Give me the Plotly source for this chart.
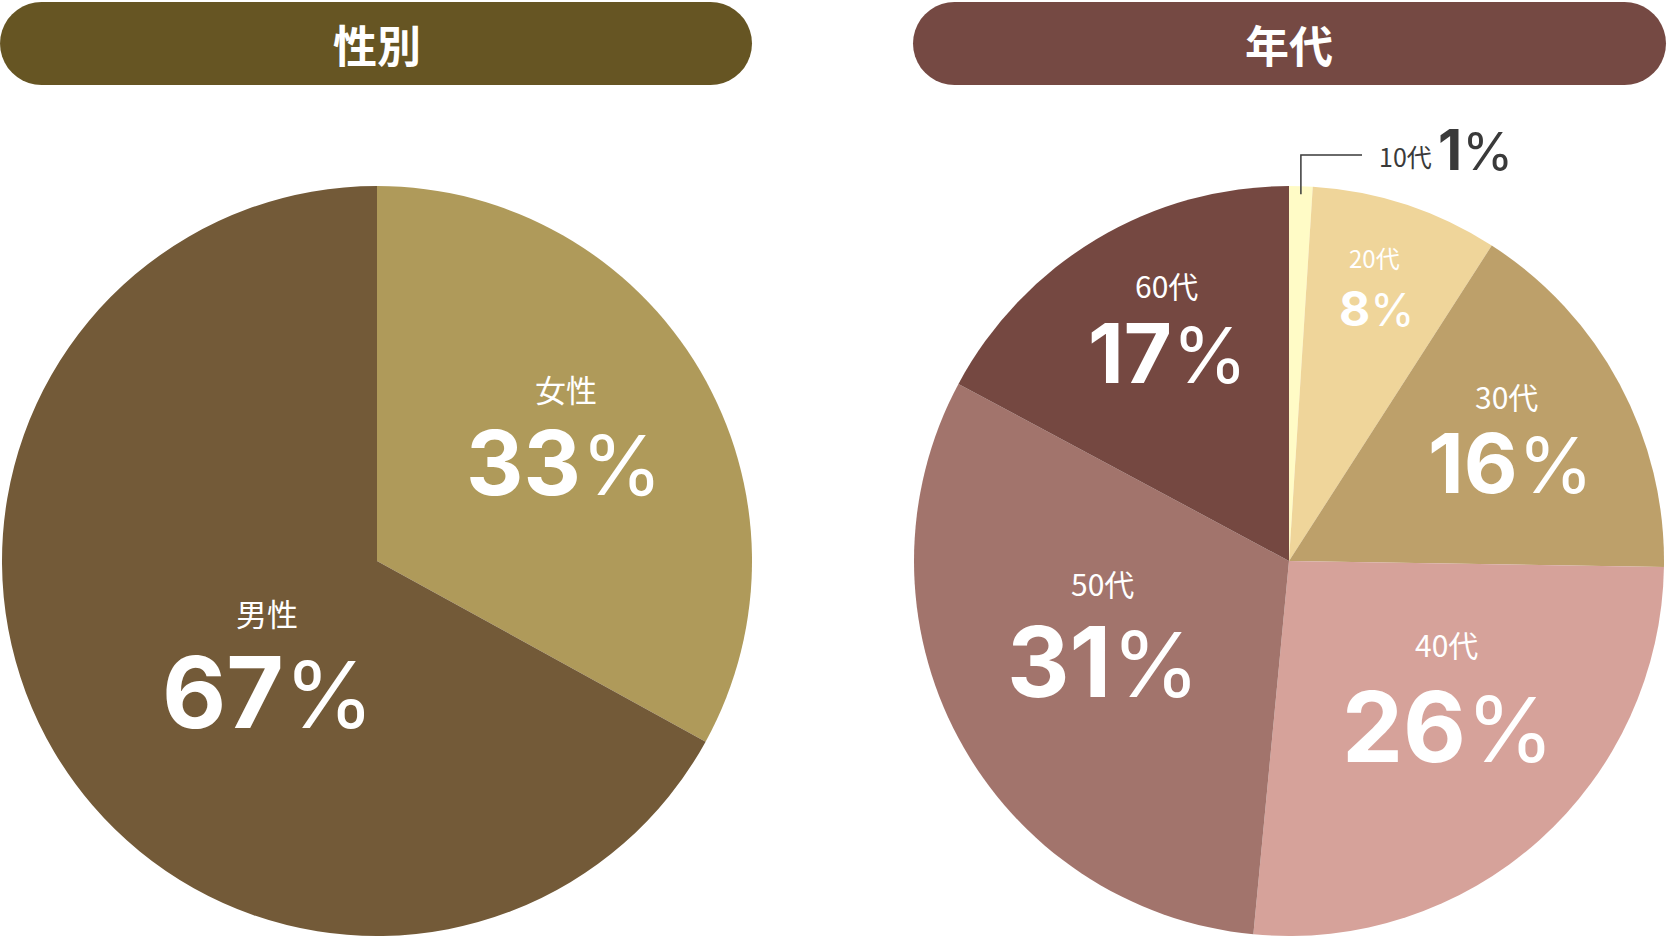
import math
import plotly.graph_objects as go

# data
gender_labels = ["女性", "男性"]
gender_values = [33, 67]

age_labels = ["10代", "20代", "30代", "40代", "50代", "60代"]
age_values = [1, 8, 16, 26, 31, 17]

# colours
gender_colors = ["#AF9A5A", "#735A38"]
age_colors = ["#FFFBC6", "#EFD59A", "#BDA06A", "#D6A29A", "#A2746C", "#754841"]
gender_head = "#665523"
age_head = "#754943"

W, H = 1668, 938
R = 375
left_c = (377, 561)
right_c = (1289, 561)

# label placement in pixels (label, value), one per slice
gender_label_xy = [(566, 388), (267, 612)]
gender_value_xy = [(564, 462), (268, 692)]
gender_value_size = [89, 99]

age_label_xy = [None, (1374, 257), (1506, 396), (1446, 644), (1102, 583), (1166, 285)]
age_value_xy = [None, (1376, 308), (1510, 463), (1448, 726), (1103, 661), (1168, 353)]
age_label_size = [25, 24, 30, 30, 30, 30]
age_value_size = [56, 48, 83, 97, 97, 83]

num_font = "Inter, Liberation Sans, Arial, sans-serif"
cjk_font = "Noto Sans CJK JP"


def px(x):
    return x / W


def py(y):
    return 1 - y / H


def dom(c):
    return dict(x=[px(c[0] - R), px(c[0] + R)], y=[py(c[1] + R), py(c[1] - R)])


fig = go.Figure()
fig.add_trace(go.Pie(
    labels=gender_labels, values=gender_values, sort=False, direction="clockwise",
    rotation=0, marker=dict(colors=gender_colors, line=dict(width=0)),
    textinfo="none", hoverinfo="label+percent", domain=dom(left_c), showlegend=False,
))
fig.add_trace(go.Pie(
    labels=age_labels, values=age_values, sort=False, direction="clockwise",
    rotation=0, marker=dict(colors=age_colors, line=dict(width=0)),
    textinfo="none", hoverinfo="label+percent", domain=dom(right_c), showlegend=False,
))


def pill(x0, x1, y0, y1, color):
    r = (y1 - y0) / 2
    pts = []
    for i in range(21):
        a = -math.pi / 2 + math.pi * i / 20
        pts.append((x1 - r + r * math.cos(a), y0 + r + r * math.sin(a)))
    for i in range(21):
        a = math.pi / 2 + math.pi * i / 20
        pts.append((x0 + r + r * math.cos(a), y0 + r + r * math.sin(a)))
    path = "M " + " L ".join(f"{px(a):.5f},{py(b):.5f}" for a, b in pts) + " Z"
    return dict(type="path", xref="paper", yref="paper", path=path,
                fillcolor=color, line=dict(width=0), layer="below")


shapes = [pill(0, 752, 2, 85, gender_head), pill(913, 1666, 2, 85, age_head)]

annotations = [
    dict(x=px(377), y=py(44), text="<b>性別</b>"),
    dict(x=px(1289), y=py(44), text="<b>年代</b>"),
]
for a in annotations:
    a.update(xref="paper", yref="paper", showarrow=False, xanchor="center", yanchor="middle",
             font=dict(family=cjk_font, size=44, color="white"))


def value_text(v, size):
    pct = f"<span style='font-weight:normal;font-size:{round(size * 0.93)}px'>%</span>"
    return f"<b>{v}</b>{pct}"


def add_label(xy, text, size, color):
    annotations.append(dict(x=px(xy[0]), y=py(xy[1]), text=text, xref="paper", yref="paper",
                            showarrow=False, xanchor="center", yanchor="middle",
                            font=dict(family=cjk_font, size=size, color=color)))


def add_value(xy, v, size, color):
    annotations.append(dict(x=px(xy[0]), y=py(xy[1]), text=value_text(v, size), xref="paper",
                            yref="paper", showarrow=False, xanchor="center", yanchor="middle",
                            font=dict(family=num_font, size=size, color=color)))


for lab, v, lxy, vxy, vs in zip(gender_labels, gender_values, gender_label_xy,
                                gender_value_xy, gender_value_size):
    add_label(lxy, lab, 31, "white")
    add_value(vxy, v, vs, "white")

for i, (lab, v) in enumerate(zip(age_labels, age_values)):
    if age_label_xy[i] is None:
        continue
    add_label(age_label_xy[i], lab, age_label_size[i], "white")
    add_value(age_value_xy[i], v, age_value_size[i], "white")

# leader for the small 10代 slice, starting at its mid angle
mid = (age_values[0] / 2) / sum(age_values) * 2 * math.pi
lx = right_c[0] + R * math.sin(mid)
ly = right_c[1] - R * math.cos(mid) + 8
shapes.append(dict(type="path", xref="paper", yref="paper",
                   path=f"M {px(lx)},{py(ly)} L {px(lx)},{py(155)} L {px(1362)},{py(155)}",
                   line=dict(color="#3a3a3a", width=1.5)))
annotations.append(dict(x=px(1377), y=py(156), text=age_labels[0], xref="paper", yref="paper",
                        showarrow=False, xanchor="left", yanchor="middle",
                        font=dict(family=cjk_font, size=age_label_size[0], color="#3a3a3a")))
annotations.append(dict(x=px(1436), y=py(150), xref="paper", yref="paper",
                        text=value_text(age_values[0], age_value_size[0]),
                        showarrow=False, xanchor="left", yanchor="middle",
                        font=dict(family=num_font, size=age_value_size[0], color="#3a3a3a")))

fig.update_layout(
    width=W, height=H, margin=dict(l=0, r=0, t=0, b=0),
    paper_bgcolor="white", plot_bgcolor="white",
    shapes=shapes, annotations=annotations,
)

fig.write_html("out.html", config={"displayModeBar": False},
               post_script="document.body.style.margin='0';")
